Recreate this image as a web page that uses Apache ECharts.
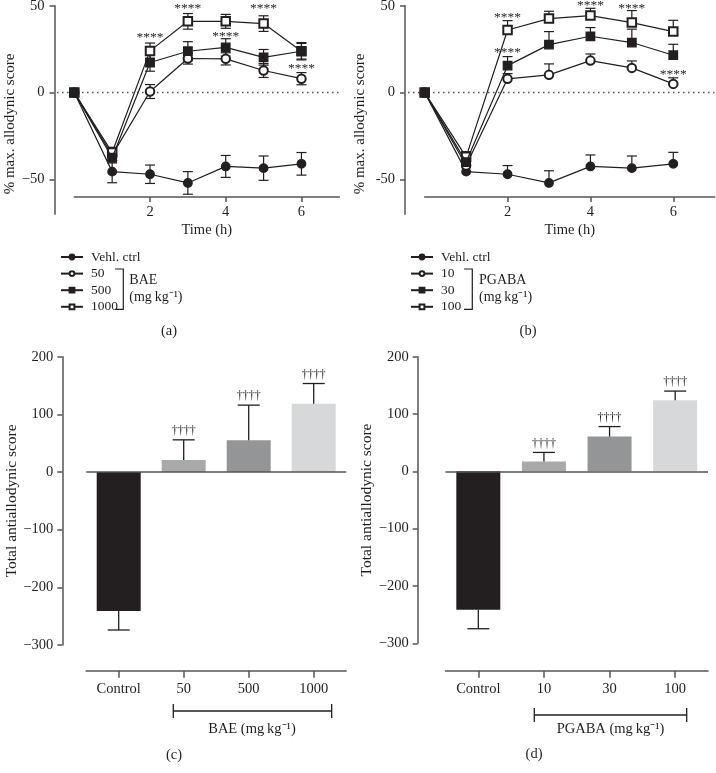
<!DOCTYPE html>
<html><head><meta charset="utf-8">
<script src="https://cdn.jsdelivr.net/npm/echarts@6/dist/echarts.min.js"></script>
<style>html,body{margin:0;padding:0;background:#fff}#c{width:716px;height:773px}</style>
</head><body><div id="c"></div>
<script>
// ---------- data ----------
const timeH = [0, 1, 2, 3, 4, 5, 6];
const timeTicks = [2, 4, 6];
const lineYTicks = [-50, 0, 50];
const zeroRef = 0;

const namesA = ['Vehl. ctrl', '50', '500', '1000'];
const aCtrl = [0, -45.5, -47, -52, -42.5, -43.5, -41];
const aCtrlErr = [0, 6.4, 5.3, 6.5, 6.3, 7, 6.5];
const a50 = [0, -36, 0.6, 19.6, 19.4, 12.7, 8];
const a50Err = [0, 3, 4, 3.2, 3.5, 4, 3.5];
const a500 = [0, -37.5, 17.3, 23.8, 26, 20.3, 23.8];
const a500Err = [0, 3, 5, 5.5, 5, 4.5, 5];
const a1000 = [0, -34.5, 24, 41, 41, 39.7, 23.8];
const a1000Err = [0, 3, 4.5, 4.5, 4, 4.5, 4.5];
const aStars = [[2, 33.4], [3, 50], [4, 34.2], [5, 50], [6, 15.7]];

const namesB = ['Vehl. ctrl', '10', '30', '100'];
const bCtrl = [0, -45.5, -47, -52, -42.5, -43.5, -41];
const bCtrlErr = [0, 0, 5, 7, 6.6, 7, 6.6];
const b10 = [0, -42, 7.9, 10.2, 18.4, 14.2, 5];
const b10Err = [0, 2, 3, 6.3, 3.8, 4, 3.5];
const b30 = [0, -40, 15.5, 27.6, 32.4, 28.8, 21.5];
const b30Err = [0, 2, 5.2, 7.5, 5, 7.7, 6.3];
const b100 = [0, -37, 36, 42.6, 44.3, 40.3, 35.1];
const b100Err = [0, 3, 5.4, 4.2, 4.2, 6.9, 6.5];
const bStars = [[2, 45.1], [2, 25.1], [4, 51.8], [5, 49.9], [6, 11.9]];

const barCatsC = ['Control', '50', '500', '1000'];
const barValsC = [-241, 20.8, 55, 118.5];
const barErrC = [33, 35, 61, 35];
const barCatsD = ['Control', '10', '30', '100'];
const barValsD = [-241.6, 17, 60.6, 124];
const barErrD = [33, 16, 17.5, 16];
const barMarks = ['', '††††', '††††', '††††'];

// ---------- style ----------
const FONT = 'Liberation Serif';
const INK = '#231f20';
const AXIS = '#555555';
const barColors = ['#231f20', '#a8a9ab', '#949597', '#d7d8da'];
const symbols = ['circle', 'emptyCircle', 'rect', 'emptyRect'];
const zs = [5, 6, 7, 6];
const minus = v => String(v).replace('-', '\u2212');

function errRender(upperOnly, capW) {
  return function (params, api) {
    const x = api.value(0), y = api.value(1), e = api.value(2);
    if (!e) return null;
    const p = api.coord([x, y]);
    const top = api.coord([x, y + e]);
    const bot = upperOnly ? p : api.coord([x, y - e]);
    const st = { stroke: INK, lineWidth: 1.2 };
    const ch = [
      { type: 'line', shape: { x1: p[0], y1: top[1], x2: p[0], y2: bot[1] }, style: st },
      { type: 'line', shape: { x1: p[0] - capW / 2, y1: top[1], x2: p[0] + capW / 2, y2: top[1] }, style: st }
    ];
    if (!upperOnly) ch.push({ type: 'line', shape: { x1: p[0] - capW / 2, y1: bot[1], x2: p[0] + capW / 2, y2: bot[1] }, style: st });
    return { type: 'group', children: ch };
  };
}
function starRender(params, api) {
  const p = api.coord([api.value(0), api.value(1)]);
  return { type: 'text', x: p[0], y: p[1] + 3, style: { text: '****', fill: INK, font: '13.5px "' + FONT + '"', align: 'center', verticalAlign: 'middle' } };
}
function barErrRender(marks) {
  return function (params, api) {
    const i = api.value(0), v = api.value(1), e = api.value(2);
    const end = v + (v < 0 ? -e : e);
    const p0 = api.coord([i, v]), p1 = api.coord([i, end]);
    const cw = 22, st = { stroke: INK, lineWidth: 1.3 };
    const ch = [
      { type: 'line', shape: { x1: p0[0], y1: p0[1], x2: p0[0], y2: p1[1] }, style: st },
      { type: 'line', shape: { x1: p0[0] - cw / 2, y1: p1[1], x2: p0[0] + cw / 2, y2: p1[1] }, style: st }
    ];
    const m = marks[params.dataIndex];
    if (m) ch.push({ type: 'text', x: p0[0], y: p1[1] - 3, style: { text: m, fill: INK, font: '12px "' + FONT + '"', align: 'center', verticalAlign: 'bottom' } });
    return { type: 'group', children: ch };
  };
}

const series = [];
function addLinePanel(ax, helperAx, names, vals, errs, upperOnly, stars) {
  vals.forEach((v, k) => {
    series.push({
      type: 'custom', xAxisIndex: ax, yAxisIndex: ax, z: 2, silent: true,
      encode: { x: 0, y: 1 },
      data: timeH.map((t, i) => [t, v[i], errs[k][i]]),
      renderItem: errRender(upperOnly, 10)
    });
  });
  vals.forEach((v, k) => {
    series.push({
      type: 'line', name: names[k], xAxisIndex: ax, yAxisIndex: ax, z: zs[k],
      data: timeH.map((t, i) => [t, v[i]]),
      symbol: symbols[k], symbolSize: 8.5,
      lineStyle: { color: INK, width: 1.2 },
      itemStyle: { color: INK, borderColor: INK, borderWidth: 1.3 },
      emphasis: { disabled: true }, silent: true
    });
  });
  series.push({ type: 'custom', xAxisIndex: ax, yAxisIndex: ax, z: 9, silent: true, encode: { x: 0, y: 1 }, data: stars, renderItem: starRender });
  series.push({
    type: 'line', xAxisIndex: helperAx, yAxisIndex: helperAx, z: 1, silent: true,
    data: [[0, zeroRef], [1, zeroRef]], symbol: 'none',
    lineStyle: { type: [1.5, 3.5], color: AXIS, width: 1.5 }
  });
}
addLinePanel(0, 2, namesA, [aCtrl, a50, a500, a1000], [aCtrlErr, a50Err, a500Err, a1000Err], false, aStars);
addLinePanel(1, 3, namesB, [bCtrl, b10, b30, b100], [bCtrlErr, b10Err, b30Err, b100Err], true, bStars);

function addBarPanel(ax, vals, errs) {
  series.push({
    type: 'bar', xAxisIndex: ax, yAxisIndex: ax, barWidth: 44, silent: true,
    data: vals.map((v, i) => ({ value: v, itemStyle: { color: barColors[i] } })),
    markLine: { silent: true, symbol: ['none', 'none'], label: { show: false }, data: [{ yAxis: zeroRef }], lineStyle: { color: AXIS, width: 1.5, type: 'solid' } }
  });
  series.push({
    type: 'custom', xAxisIndex: ax, yAxisIndex: ax, z: 4, silent: true, encode: { x: 0, y: 1 },
    data: vals.map((v, i) => [i, v, errs[i]]), renderItem: barErrRender(barMarks)
  });
}
addBarPanel(4, barValsC, barErrC);
addBarPanel(5, barValsD, barErrD);

// ---------- axes ----------
function lineX(grid) {
  return {
    gridIndex: grid, type: 'value', min: 0, max: 7, offset: -17.3,
    axisLine: { show: true, onZero: false, lineStyle: { color: AXIS, width: 1.5 } },
    axisTick: { show: true, customValues: timeTicks, length: 5, lineStyle: { color: AXIS, width: 1.5 } },
    axisLabel: { customValues: timeTicks, margin: 8, fontSize: 14.5, color: INK, fontFamily: FONT },
    splitLine: { show: false },
    name: 'Time (h)', nameLocation: 'middle', nameGap: 26,
    nameTextStyle: { fontSize: 14.5, color: INK, fontFamily: FONT }
  };
}
function lineY(grid, fmt) {
  return {
    gridIndex: grid, type: 'value', min: -70, max: 50, offset: grid === 0 ? 19.8 : 19.7,
    axisLine: { show: true, onZero: false, lineStyle: { color: AXIS, width: 1.5 } },
    axisTick: { show: true, customValues: lineYTicks, length: 5, lineStyle: { color: AXIS, width: 1.5 } },
    axisLabel: { customValues: lineYTicks, margin: 10, fontSize: 14.5, color: INK, fontFamily: FONT, formatter: fmt },
    splitLine: { show: false },
    name: '% max. allodynic score', nameLocation: 'middle', nameGap: 37,
    nameTextStyle: { fontSize: 15, color: INK, fontFamily: FONT, padding: [0, 28, 0, 0] }
  };
}
function helperX(grid) { return { gridIndex: grid, type: 'value', min: 0, max: 1, show: false }; }
function helperY(grid) { return { gridIndex: grid, type: 'value', min: -70, max: 50, show: false }; }
function barX(grid, cats) {
  return {
    gridIndex: grid, type: 'category', data: cats, offset: grid === 4 ? 25.7 : 27.4,
    axisLine: { show: true, onZero: false, lineStyle: { color: AXIS, width: 1.5 } },
    axisTick: { show: true, alignWithLabel: true, length: 7, lineStyle: { color: AXIS, width: 1.5 } },
    axisLabel: { margin: 11, fontSize: 14.5, color: INK, fontFamily: FONT },
    splitLine: { show: false }
  };
}
function barY(grid, off) {
  return {
    gridIndex: grid, type: 'value', min: -300, max: 200, interval: 100, offset: off,
    axisLine: { show: true, onZero: false, lineStyle: { color: AXIS, width: 1.5 } },
    axisTick: { show: true, length: 5, lineStyle: { color: AXIS, width: 1.5 } },
    axisLabel: { margin: 9, fontSize: 14.5, color: INK, fontFamily: FONT, formatter: minus },
    splitLine: { show: false },
    name: 'Total antiallodynic score', nameLocation: 'middle', nameGap: 40,
    nameTextStyle: { fontSize: 15.5, color: INK, fontFamily: FONT }
  };
}

const gridBase = { outerBoundsMode: 'none', containLabel: false };
const option = {
  animation: false,
  backgroundColor: '#ffffff',
  textStyle: { fontFamily: FONT, color: INK },
  grid: [
    Object.assign({ left: 74.3, top: 5.7, width: 265, height: 208.5 }, gridBase),
    Object.assign({ left: 424.7, top: 5.7, width: 290, height: 208.5 }, gridBase),
    Object.assign({ left: 57, top: 5.7, width: 283, height: 208.5 }, gridBase),
    Object.assign({ left: 408, top: 5.7, width: 307, height: 208.5 }, gridBase),
    Object.assign({ left: 86.2, top: 356.7, width: 260, height: 288.3 }, gridBase),
    Object.assign({ left: 445.5, top: 356.7, width: 262.5, height: 286.6 }, gridBase)
  ],
  xAxis: [lineX(0), lineX(1), helperX(2), helperX(3), barX(4, barCatsC), barX(5, barCatsD)],
  yAxis: [lineY(0, minus), lineY(1, v => String(v)), helperY(2), helperY(3), barY(4, 23.9), barY(5, 27.8)],
  legend: [
    { left: 55, top: 245, orient: 'vertical', itemWidth: 22, itemHeight: 6, itemGap: 2.6, selectedMode: false,
      data: namesA, textStyle: { fontSize: 13.5, color: INK, fontFamily: FONT, padding: [0, 0, 0, 3] } },
    { left: 405, top: 245, orient: 'vertical', itemWidth: 22, itemHeight: 6, itemGap: 2.6, selectedMode: false,
      data: namesB, textStyle: { fontSize: 13.5, color: INK, fontFamily: FONT, padding: [0, 0, 0, 3] } }
  ],
  graphic: [],
  series: series
};

const tStyle = (txt, size, align) => ({ text: txt, fill: INK, font: size + 'px "' + FONT + '"', align: align || 'left', verticalAlign: 'middle' });
const G = option.graphic;
const brk = { stroke: INK, lineWidth: 1.2, fill: null };
G.push({ type: 'polyline', shape: { points: [[115, 269], [123.3, 269], [123.3, 309.3], [115, 309.3]] }, style: brk, silent: true });
G.push({ type: 'text', x: 129.3, y: 280, style: tStyle('BAE', 14), silent: true });
G.push({ type: 'text', x: 129.3, y: 297.3, style: tStyle('(mg\u2009kg\u207b\u00b9)', 14), silent: true });
G.push({ type: 'polyline', shape: { points: [[464, 269], [472.3, 269], [472.3, 309.3], [464, 309.3]] }, style: brk, silent: true });
G.push({ type: 'text', x: 479, y: 280, style: tStyle('PGABA', 14), silent: true });
G.push({ type: 'text', x: 479, y: 297.3, style: tStyle('(mg\u2009kg\u207b\u00b9)', 14), silent: true });
G.push({ type: 'text', x: 169, y: 331, style: tStyle('(a)', 14.5, 'center'), silent: true });
G.push({ type: 'text', x: 528, y: 331, style: tStyle('(b)', 14.5, 'center'), silent: true });
G.push({ type: 'text', x: 174, y: 755, style: tStyle('(c)', 14.5, 'center'), silent: true });
G.push({ type: 'text', x: 534, y: 754, style: tStyle('(d)', 14.5, 'center'), silent: true });
const brk2 = { stroke: INK, lineWidth: 1.3 };
G.push({ type: 'line', shape: { x1: 173.3, y1: 711, x2: 331.7, y2: 711 }, style: brk2, silent: true });
G.push({ type: 'line', shape: { x1: 173.3, y1: 704, x2: 173.3, y2: 718 }, style: brk2, silent: true });
G.push({ type: 'line', shape: { x1: 331.7, y1: 704, x2: 331.7, y2: 718 }, style: brk2, silent: true });
G.push({ type: 'text', x: 252, y: 729, style: tStyle('BAE (mg\u2009kg\u207b\u00b9)', 14.5, 'center'), silent: true });
G.push({ type: 'line', shape: { x1: 534.3, y1: 715, x2: 686.7, y2: 715 }, style: brk2, silent: true });
G.push({ type: 'line', shape: { x1: 534.3, y1: 708, x2: 534.3, y2: 722 }, style: brk2, silent: true });
G.push({ type: 'line', shape: { x1: 686.7, y1: 708, x2: 686.7, y2: 722 }, style: brk2, silent: true });
G.push({ type: 'text', x: 610.5, y: 729, style: tStyle('PGABA (mg\u2009kg\u207b\u00b9)', 14.5, 'center'), silent: true });

const chart = echarts.init(document.getElementById('c'), null, { renderer: 'canvas' });
chart.setOption(option);
</script></body></html>
